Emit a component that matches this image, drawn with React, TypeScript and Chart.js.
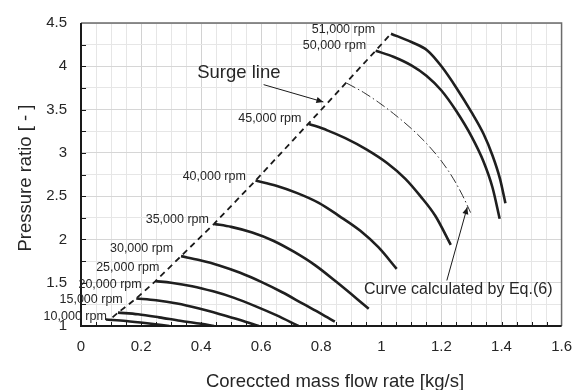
import React, { useEffect, useRef } from 'react';
import { Chart, registerables } from 'chart.js';

Chart.register(...registerables);

const xTickValues = [0, 0.2, 0.4, 0.6, 0.8, 1, 1.2, 1.4, 1.6];
const xTickLabels = ['0', '0.2', '0.4', '0.6', '0.8', '1', '1.2', '1.4', '1.6'];
const yTickValues = [1, 1.5, 2, 2.5, 3, 3.5, 4, 4.5];
const yTickLabels = ['1', '1.5', '2', '2.5', '3', '3.5', '4', '4.5'];

const speedLabels = ['10,000 rpm', '15,000 rpm', '20,000 rpm', '25,000 rpm', '30,000 rpm', '35,000 rpm', '40,000 rpm', '45,000 rpm', '50,000 rpm', '51,000 rpm'];

const flow10k = [0.083, 0.15, 0.22, 0.294];
const pr10k = [1.075, 1.058, 1.032, 1.0];
const flow15k = [0.123, 0.19, 0.26, 0.33, 0.4, 0.443];
const pr15k = [1.154, 1.135, 1.1, 1.06, 1.025, 1.0];
const flow20k = [0.184, 0.25, 0.32, 0.39, 0.46, 0.53, 0.592];
const pr20k = [1.318, 1.298, 1.26, 1.205, 1.14, 1.07, 1.0];
const flow25k = [0.248, 0.3, 0.37, 0.44, 0.51, 0.58, 0.65, 0.724];
const pr25k = [1.518, 1.5, 1.46, 1.4, 1.325, 1.23, 1.125, 1.0];
const flow30k = [0.333, 0.393, 0.46, 0.53, 0.6, 0.67, 0.74, 0.8, 0.845];
const pr30k = [1.807, 1.762, 1.7, 1.615, 1.51, 1.39, 1.255, 1.14, 1.05];
const flow35k = [0.443, 0.5, 0.57, 0.64, 0.71, 0.78, 0.85, 0.958];
const pr35k = [2.18, 2.145, 2.08, 1.985, 1.855, 1.7, 1.51, 1.2];
const flow40k = [0.581, 0.65, 0.72, 0.79, 0.86, 0.93, 0.99, 1.051];
const pr40k = [2.68, 2.62, 2.535, 2.425, 2.27, 2.1, 1.91, 1.66];
const flow45k = [0.757, 0.82, 0.88, 0.95, 1.02, 1.08, 1.13, 1.18, 1.231];
const pr45k = [3.337, 3.26, 3.17, 3.04, 2.88, 2.7, 2.5, 2.27, 1.937];
const flow50k = [0.981, 1.04, 1.1, 1.15, 1.2, 1.25, 1.3, 1.34, 1.37, 1.394];
const pr50k = [4.18, 4.11, 4.01, 3.89, 3.72, 3.48, 3.19, 2.9, 2.6, 2.238];
const flow51k = [1.032, 1.1, 1.154, 1.2, 1.25, 1.3, 1.34, 1.37, 1.395, 1.413];
const pr51k = [4.376, 4.28, 4.18, 4.0, 3.75, 3.47, 3.22, 2.97, 2.7, 2.418];

const surgeFlow = [0.105, 0.123, 0.184, 0.248, 0.333, 0.443, 0.581, 0.757, 0.981, 1.032];
const surgePr = [1.1, 1.154, 1.318, 1.518, 1.807, 2.18, 2.68, 3.337, 4.18, 4.376];

const eq6Flow = [0.884, 0.94, 0.99, 1.04, 1.1, 1.15, 1.2, 1.24, 1.27, 1.297];
const eq6Pr = [3.806, 3.7, 3.585, 3.455, 3.28, 3.11, 2.905, 2.7, 2.51, 2.31];

// annotation anchors (right edge x, centre y) in data units
const rpmLabelX = [0.086, 0.139, 0.202, 0.261, 0.307, 0.426, 0.549, 0.734, 0.949, 0.979];
const rpmLabelY = [1.113, 1.307, 1.476, 1.675, 1.9, 2.23, 2.73, 3.394, 4.245, 4.425];

const FONT = '"Liberation Sans", Arial, sans-serif';
const TEXT = '#262626';

const speedFlows = [flow10k, flow15k, flow20k, flow25k, flow30k, flow35k, flow40k, flow45k, flow50k, flow51k];
const speedPrs = [pr10k, pr15k, pr20k, pr25k, pr30k, pr35k, pr40k, pr45k, pr50k, pr51k];

function pts(xs: number[], ys: number[]) {
  return xs.map((x, i) => ({ x, y: ys[i] }));
}

function arrow(ctx: CanvasRenderingContext2D, x1: number, y1: number, x2: number, y2: number) {
  ctx.save();
  ctx.strokeStyle = '#1a1a1a';
  ctx.fillStyle = '#1a1a1a';
  ctx.lineWidth = 1;
  ctx.beginPath();
  ctx.moveTo(x1, y1);
  ctx.lineTo(x2, y2);
  ctx.stroke();
  const a = Math.atan2(y2 - y1, x2 - x1);
  const L = 7, W = 3;
  ctx.beginPath();
  ctx.moveTo(x2, y2);
  ctx.lineTo(x2 - L * Math.cos(a) + W * Math.sin(a), y2 - L * Math.sin(a) - W * Math.cos(a));
  ctx.lineTo(x2 - L * Math.cos(a) - W * Math.sin(a), y2 - L * Math.sin(a) + W * Math.cos(a));
  ctx.closePath();
  ctx.fill();
  ctx.restore();
}

const overlayPlugin = {
  id: 'overlay',
  afterDatasetsDraw(chart: any) {
    const ctx: CanvasRenderingContext2D = chart.ctx;
    const xs = chart.scales.x;
    const ys = chart.scales.y;
    const { left, right, top, bottom } = chart.chartArea;
    const px = (v: number) => xs.getPixelForValue(v);
    const py = (v: number) => ys.getPixelForValue(v);
    ctx.save();
    // inner ticks
    ctx.strokeStyle = '#1a1a1a';
    ctx.lineWidth = 1;
    for (let i = 1; i < 32; i++) {
      const x = Math.round(px(i * 0.05)) + 0.5;
      ctx.beginPath();
      ctx.moveTo(x, bottom);
      ctx.lineTo(x, bottom - 4);
      ctx.stroke();
    }
    for (let i = 1; i < 14; i++) {
      const y = Math.round(py(1 + i * 0.25)) + 0.5;
      ctx.beginPath();
      ctx.moveTo(left, y);
      ctx.lineTo(left + 5, y);
      ctx.stroke();
    }
    // frame
    ctx.strokeStyle = '#6b6b6b';
    ctx.lineWidth = 1.5;
    ctx.beginPath();
    ctx.moveTo(left, top);
    ctx.lineTo(right, top);
    ctx.lineTo(right, bottom);
    ctx.stroke();
    ctx.strokeStyle = '#1a1a1a';
    ctx.lineWidth = 2;
    ctx.beginPath();
    ctx.moveTo(left, top);
    ctx.lineTo(left, bottom);
    ctx.lineTo(right, bottom);
    ctx.stroke();

    // rpm labels
    ctx.fillStyle = TEXT;
    ctx.font = `12.5px ${FONT}`;
    ctx.textAlign = 'right';
    ctx.textBaseline = 'middle';
    speedLabels.forEach((t, i) => {
      ctx.fillText(t, px(rpmLabelX[i]), py(rpmLabelY[i]));
    });

    // surge line annotation
    ctx.textAlign = 'left';
    ctx.font = `18.5px ${FONT}`;
    ctx.fillText('Surge line', px(0.387), py(3.926));
    arrow(ctx, px(0.608), py(3.788), px(0.807), py(3.588));

    // eq6 annotation
    ctx.font = `16px ${FONT}`;
    ctx.fillStyle = TEXT;
    ctx.fillText('Curve calculated by Eq.(6)', px(0.942), py(1.416));
    arrow(ctx, px(1.218), py(1.526), px(1.286), py(2.373));

    // axis titles
    ctx.font = `18.5px ${FONT}`;
    ctx.fillStyle = TEXT;
    ctx.textAlign = 'center';
    ctx.fillText('Coreccted mass flow rate [kg/s]', 335, 382);
    ctx.save();
    ctx.translate(26, 178);
    ctx.rotate(-Math.PI / 2);
    ctx.fillText('Pressure ratio [ - ]', 0, 0);
    ctx.restore();
    ctx.restore();
  },
};

const isMult = (v: number, m: number) => Math.abs(v / m - Math.round(v / m)) < 1e-6;

export default function App() {
  const ref = useRef<HTMLCanvasElement | null>(null);
  useEffect(() => {
    if (!ref.current) return;
    const speedSets = speedFlows.map((f, i) => ({
      label: speedLabels[i],
      data: pts(f, speedPrs[i]),
      showLine: true,
      borderColor: '#1f1f1f',
      borderWidth: 2.6,
      pointRadius: 0,
      fill: false,
      cubicInterpolationMode: 'monotone' as const,
    }));
    const chart = new Chart(ref.current, {
      type: 'scatter',
      data: {
        datasets: [
          ...speedSets,
          {
            label: 'Surge line',
            data: pts(surgeFlow, surgePr),
            showLine: true,
            borderColor: '#1a1a1a',
            borderWidth: 1.8,
            borderDash: [6, 4.5],
            pointRadius: 0,
            fill: false,
          },
          {
            label: 'Eq.(6)',
            data: pts(eq6Flow, eq6Pr),
            showLine: true,
            borderColor: '#333333',
            borderWidth: 1,
            borderDash: [10, 3, 1.5, 3],
            pointRadius: 0,
            fill: false,
            cubicInterpolationMode: 'monotone' as const,
          },
        ],
      },
      options: {
        animation: false,
        responsive: false,
        maintainAspectRatio: false,
        layout: { padding: { top: 15, right: 19, left: 0, bottom: 0 } },
        plugins: { legend: { display: false }, tooltip: { enabled: false } },
        scales: {
          x: {
            type: 'linear',
            min: 0,
            max: 1.6,
            afterFit: (s: any) => { s.height = 64; },
            border: { display: false },
            grid: {
              color: (c: any) => (isMult(c.tick.value, 0.2) ? '#d2d2d2' : '#e6e6e6'),
              lineWidth: 1,
              drawTicks: false,
            },
            ticks: {
              stepSize: 0.05,
              autoSkip: false,
              maxRotation: 0,
              padding: 12,
              color: TEXT,
              font: { family: FONT, size: 15 },
              callback: (v: any) => {
                const i = xTickValues.findIndex((t) => Math.abs(t - Number(v)) < 1e-6);
                return i >= 0 ? xTickLabels[i] : '';
              },
            },
          },
          y: {
            type: 'linear',
            min: 1,
            max: 4.5,
            afterFit: (s: any) => { s.width = 81; },
            border: { display: false },
            grid: {
              color: (c: any) => (isMult(c.tick.value, 0.5) ? '#d6d6d6' : '#e6e6e6'),
              lineWidth: 1,
              drawTicks: false,
            },
            ticks: {
              stepSize: 0.25,
              autoSkip: false,
              padding: 14,
              color: TEXT,
              font: { family: FONT, size: 15 },
              callback: (v: any) => {
                const i = yTickValues.findIndex((t) => Math.abs(t - Number(v)) < 1e-6);
                return i >= 0 ? yTickLabels[i] : '';
              },
            },
          },
        },
      },
      plugins: [overlayPlugin],
    });
    return () => chart.destroy();
  }, []);
  return (
    <div style={{ position: 'fixed', left: 0, top: 0, width: 584, height: 390, background: '#fff' }}>
      <canvas ref={ref} width={584} height={390} style={{ width: 584, height: 390, display: 'block' }} />
    </div>
  );
}
